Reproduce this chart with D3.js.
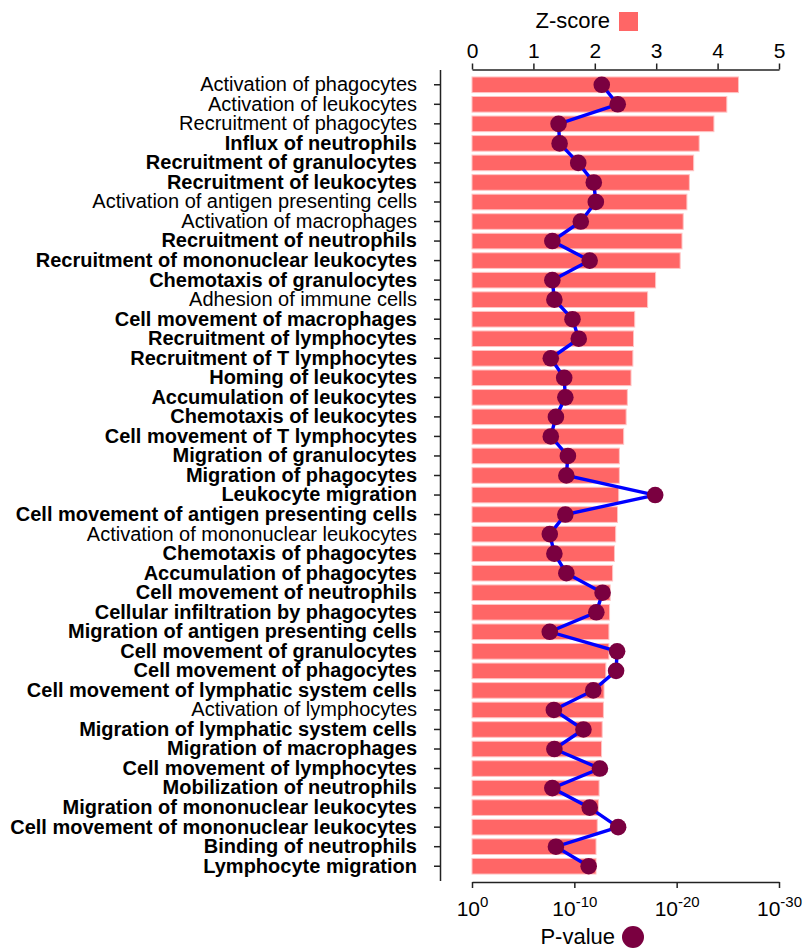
<!DOCTYPE html>
<html>
<head>
<meta charset="utf-8">
<script src="https://cdn.jsdelivr.net/npm/d3@7"></script>
<style>
  html, body { margin: 0; padding: 0; background: #fff; }
  svg { display: block; font-family: "Liberation Sans", Arial, Helvetica, sans-serif; }
</style>
</head>
<body>
<svg id="chart" width="808" height="952"></svg>
<script>
const categories = [
  "Activation of phagocytes",
  "Activation of leukocytes",
  "Recruitment of phagocytes",
  "Influx of neutrophils",
  "Recruitment of granulocytes",
  "Recruitment of leukocytes",
  "Activation of antigen presenting cells",
  "Activation of macrophages",
  "Recruitment of neutrophils",
  "Recruitment of mononuclear leukocytes",
  "Chemotaxis of granulocytes",
  "Adhesion of immune cells",
  "Cell movement of macrophages",
  "Recruitment of lymphocytes",
  "Recruitment of T lymphocytes",
  "Homing of leukocytes",
  "Accumulation of leukocytes",
  "Chemotaxis of leukocytes",
  "Cell movement of T lymphocytes",
  "Migration of granulocytes",
  "Migration of phagocytes",
  "Leukocyte migration",
  "Cell movement of antigen presenting cells",
  "Activation of mononuclear leukocytes",
  "Chemotaxis of phagocytes",
  "Accumulation of phagocytes",
  "Cell movement of neutrophils",
  "Cellular infiltration by phagocytes",
  "Migration of antigen presenting cells",
  "Cell movement of granulocytes",
  "Cell movement of phagocytes",
  "Cell movement of lymphatic system cells",
  "Activation of lymphocytes",
  "Migration of lymphatic system cells",
  "Migration of macrophages",
  "Cell movement of lymphocytes",
  "Mobilization of neutrophils",
  "Migration of mononuclear leukocytes",
  "Cell movement of mononuclear leukocytes",
  "Binding of neutrophils",
  "Lymphocyte migration"
];

// 1 = bold label, 0 = regular label
const boldLabels = [
  0,0,0,1,1,1,0,0,1,1,
  1,0,1,1,1,1,1,1,1,1,
  1,1,1,0,1,1,1,1,1,1,
  1,1,0,1,1,1,1,1,1,1,
  1
];

const zScores = [
  4.34, 4.15, 3.94, 3.70, 3.61, 3.54, 3.50, 3.44, 3.42, 3.39,
  2.99, 2.86, 2.65, 2.63, 2.62, 2.59, 2.53, 2.51, 2.47, 2.40,
  2.40, 2.39, 2.37, 2.34, 2.32, 2.29, 2.25, 2.24, 2.23, 2.23,
  2.18, 2.15, 2.14, 2.12, 2.11, 2.08, 2.07, 2.06, 2.04, 2.02,
  2.02
];

// -log10(P-value)
const negLog10P = [
  12.68, 14.24, 8.46, 8.56, 10.38, 11.9, 12.1, 10.63, 7.85, 11.5,
  7.85, 8.05, 9.82, 10.43, 7.70, 9.01, 9.12, 8.20, 7.70, 9.37,
  9.22, 17.9, 9.12, 7.60, 8.05, 9.22, 12.76, 12.15, 7.60, 14.18,
  14.08, 11.85, 8.0, 10.89, 8.05, 12.5, 7.85, 11.5, 14.28, 8.2,
  11.4
];

const zTicks = [0, 1, 2, 3, 4, 5];
const pTickExponents = [0, 10, 20, 30];
const pTickLabelsBase = ["10", "10", "10", "10"];
const pTickLabelsSup = ["0", "-10", "-20", "-30"];

const svg = d3.select("#chart");
const font = '"Liberation Sans", Arial, Helvetica, sans-serif';

const x = d3.scaleLinear().domain([0, 5]).range([472, 779]);
const xp = d3.scaleLinear().domain([0, 30]).range([472, 779]);
const y = d3.scaleBand().domain(categories).range([75, 876]).paddingInner(0.2).paddingOuter(0.1);
const bw = y.bandwidth();

// Bars
svg.append("g").selectAll("rect")
  .data(categories)
  .join("rect")
  .attr("x", x(0))
  .attr("y", d => y(d))
  .attr("width", (d, i) => x(zScores[i]) - x(0))
  .attr("height", bw)
  .attr("fill", "#ff6666")
  .attr("stroke", "#ffc4c4")
  .attr("stroke-width", 1);

// Line
const line = d3.line()
  .x((d, i) => xp(d))
  .y((d, i) => y(categories[i]) + bw / 2);
svg.append("path")
  .datum(negLog10P)
  .attr("d", line)
  .attr("fill", "none")
  .attr("stroke", "#0000ff")
  .attr("stroke-width", 3.4);

// Points
svg.append("g").selectAll("circle")
  .data(negLog10P)
  .join("circle")
  .attr("cx", d => xp(d))
  .attr("cy", (d, i) => y(categories[i]) + bw / 2)
  .attr("r", 8.3)
  .attr("fill", "#7a0040");

// Top axis
const topAxis = svg.append("g")
  .attr("transform", "translate(0,69.5)")
  .call(d3.axisTop(x).tickValues(zTicks).tickFormat(d3.format("d")).tickSize(6).tickSizeOuter(0).tickPadding(6));
topAxis.selectAll("text").attr("font-size", 21).attr("font-family", font).attr("fill", "#000");

// Bottom axis
const botAxis = svg.append("g")
  .attr("transform", "translate(0,882)")
  .call(d3.axisBottom(xp).tickValues(pTickExponents).tickSize(6).tickSizeOuter(0).tickPadding(13).tickFormat(""));
botAxis.selectAll(".tick text").each(function(d, i) {
  const t = d3.select(this);
  t.text(null).attr("font-size", 21).attr("font-family", font).attr("fill", "#000");
  t.append("tspan").text(pTickLabelsBase[i]);
  t.append("tspan").attr("font-size", 15).attr("dy", -9).text(pTickLabelsSup[i]);
});

// Left axis
const leftAxis = svg.append("g")
  .attr("transform", "translate(440,0)")
  .call(d3.axisLeft(y).tickSize(6).tickSizeOuter(0).tickPadding(17));
leftAxis.select(".domain").attr("d", "M0.5,70V881");
leftAxis.selectAll(".tick text")
  .attr("font-size", 20)
  .attr("font-family", font)
  .attr("fill", "#000")
  .attr("font-weight", (d, i) => boldLabels[i] ? "bold" : "normal");

svg.selectAll(".domain, .tick line").attr("stroke", "#222").attr("stroke-width", 1.5);

// Legends
svg.append("text")
  .attr("x", 610).attr("y", 27.5)
  .attr("text-anchor", "end")
  .attr("font-size", 22).attr("font-family", font)
  .text("Z-score");
svg.append("rect")
  .attr("x", 619).attr("y", 12).attr("width", 19).attr("height", 19)
  .attr("fill", "#ff6666");

svg.append("text")
  .attr("x", 615).attr("y", 944)
  .attr("text-anchor", "end")
  .attr("font-size", 22).attr("font-family", font)
  .text("P-value");
svg.append("circle")
  .attr("cx", 633).attr("cy", 937).attr("r", 11)
  .attr("fill", "#7a0040");
</script>
</body>
</html>
